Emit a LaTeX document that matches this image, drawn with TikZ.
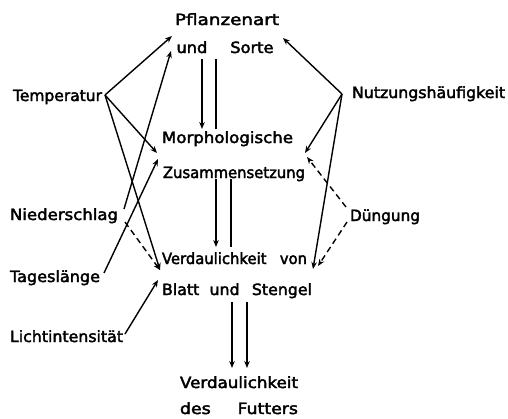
\documentclass[tikz,border=0pt]{standalone}
\usepackage{fontspec}
\usepackage{graphicx}
\setmainfont{DejaVu Sans}
\newfontface\labfont{DejaVu Sans}[FakeBold=2.5]
\newcommand{\fw}[2]{\resizebox{#1pt}{\height}{#2}}
\usetikzlibrary{arrows.meta}
\begin{document}
\begin{tikzpicture}[x=1pt,y=-1pt,
  lab/.style={anchor=base,inner sep=0pt,font=\labfont\fontsize{15.5}{18}\selectfont},
  con/.style={line width=1.4pt,-{Stealth[length=7pt,width=5.5pt]}},
  plain/.style={line width=1.4pt},
  dsh/.style={con,dash pattern=on 6pt off 4pt}]
\useasboundingbox (0,0) rectangle (508,418);
% texts
\node[lab] (pfl) at (227,25) {\fw{104}{Pflanzenart}};
\node[lab] (sorte) at (225,53) {\fw{97}{und\hspace{22pt}Sorte}};
\node[lab] (temp) at (57.5,101) {\fw{89}{Temperatur}};
\node[lab] (nutz) at (428.5,98) {\fw{153}{Nutzungshäufigkeit}};
\node[lab] (morph) at (227.5,143) {\fw{131}{Morphologische}};
\node[lab] (zus) at (234,178) {\fw{142}{Zusammensetzung}};
\node[lab] (nied) at (64,220) {\fw{108}{Niederschlag}};
\node[lab] (dueng) at (385,221) {\fw{70}{Düngung}};
\node[lab] (verd) at (234.5,264) {\fw{145}{Verdaulichkeit\hspace{14pt}von}};
\node[lab] (blatt) at (237,295) {\fw{150}{Blatt\hspace{10pt}und\hspace{12pt}Stengel}};
\node[lab] (tag) at (55,282) {\fw{90}{Tageslänge}};
\node[lab] (licht) at (66.5,342) {\fw{113}{Lichtintensität}};
\node[lab] (verd2) at (239,388) {\fw{118}{Verdaulichkeit}};
\node[lab] (fut) at (239,414) {\fw{118}{des\hspace{24pt}Futters}};
% connector ends
\coordinate (tO) at (105,95);
\coordinate (nO) at (124,209);
\coordinate (nD) at (125,222);
\coordinate (tgO) at (104,273);
\coordinate (lO) at (125,334);
\coordinate (nuO) at (342,94);
\coordinate (dO1) at (346,207);
\coordinate (dO2) at (347,222);
\coordinate (pA) at (172,36);
\coordinate (pB) at (171,51);
\coordinate (pC) at (283,38);
\coordinate (mA) at (157,153);
\coordinate (mB) at (158,159);
\coordinate (mC) at (305,153);
\coordinate (mD) at (307,157);
\coordinate (vA) at (160,270);
\coordinate (vB) at (158,280);
\coordinate (vC) at (313,269);
\coordinate (vD) at (318,266);
% vertical arrows
\coordinate (a1) at (202,59); \coordinate (a1e) at (202,129);
\coordinate (b1) at (216,59); \coordinate (b1e) at (216,129);
\coordinate (a2) at (216,179); \coordinate (a2e) at (216,247);
\coordinate (b2) at (231,179); \coordinate (b2e) at (231,247);
\coordinate (a3) at (232,302); \coordinate (a3e) at (232,368);
\coordinate (b3) at (247,302); \coordinate (b3e) at (247,368);
\draw[con] (a1) -- (a1e);
\draw[plain] (b1) -- (b1e);
\draw[con] (a2) -- (a2e);
\draw[plain] (b2) -- (b2e);
\draw[con] (a3) -- (a3e);
\draw[con] (b3) -- (b3e);
% influences
\draw[con] (tO) -- (pA);
\draw[con] (tO) -- (mA);
\draw[con] (tO) -- (vA);
\draw[con] (nO) -- (pB);
\draw[dsh] (nD) -- (vA);
\draw[con] (tgO) -- (mB);
\draw[con] (lO) -- (vB);
\draw[con] (nuO) -- (pC);
\draw[con] (nuO) -- (mC);
\draw[con] (nuO) -- (vC);
\draw[dsh] (dO1) -- (mD);
\draw[dsh] (dO2) -- (vD);
\end{tikzpicture}
\end{document}
